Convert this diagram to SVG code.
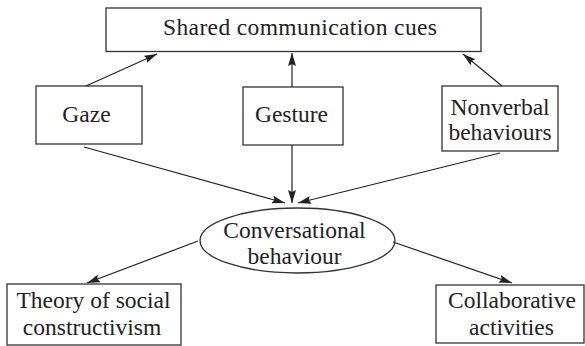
<svg xmlns="http://www.w3.org/2000/svg" width="585" height="346" viewBox="0 0 585 346">
<style>
.box{fill:#fff;stroke:#333;stroke-width:1.3}
.t{font-family:'Liberation Serif','DejaVu Serif',serif;font-size:23.5px;fill:#222;text-anchor:middle}
.c line{stroke:#222;stroke-width:1.2;marker-end:url(#ah)}
</style>
<defs>
<marker id="ah" markerUnits="userSpaceOnUse" markerWidth="14" markerHeight="10" refX="13" refY="4" orient="auto">
<path d="M0,0 L13,4 L0,8 L2,4 z" fill="#222"/>
</marker>
</defs>
<rect width="585" height="346" fill="#fff"/>
<g id="shared"><rect class="box" x="106" y="8" width="375" height="43.5"/><text class="t" x="300" y="35" textLength="274" lengthAdjust="spacing">Shared communication cues</text></g>
<g id="gaze"><rect class="box" x="36" y="86" width="106" height="58"/><text class="t" x="86.5" y="122">Gaze</text></g>
<g id="gesture"><rect class="box" x="243" y="87" width="100" height="58"/><text class="t" x="291.5" y="122">Gesture</text></g>
<g id="nonverbal"><rect class="box" x="442" y="86" width="116" height="65"/><text class="t" x="500" y="115">Nonverbal</text><text class="t" x="500" y="140">behaviours</text></g>
<g id="conversational"><ellipse class="box" cx="297.5" cy="240.5" rx="97.5" ry="32.5"/><text class="t" x="294.5" y="238">Conversational</text><text class="t" x="294.5" y="264">behaviour</text></g>
<g id="theory"><rect class="box" x="7" y="284" width="174" height="61"/><text class="t" x="93.5" y="308">Theory of social</text><text class="t" x="92" y="335">constructivism</text></g>
<g id="collab"><rect class="box" x="436" y="285" width="148" height="58"/><text class="t" x="512" y="308">Collaborative</text><text class="t" x="511.5" y="335">activities</text></g>
<g class="c" id="connectors">
<line x1="86" y1="86" x2="157" y2="54"/>
<line x1="292" y1="87" x2="292" y2="53"/>
<line x1="502" y1="86" x2="463" y2="54"/>
<line x1="84" y1="147" x2="285" y2="203"/>
<line x1="292" y1="145" x2="292" y2="203"/>
<line x1="500" y1="153" x2="298" y2="203"/>
<line x1="198" y1="241" x2="87" y2="283"/>
<line x1="393" y1="242" x2="512" y2="283"/>
</g>
</svg>
